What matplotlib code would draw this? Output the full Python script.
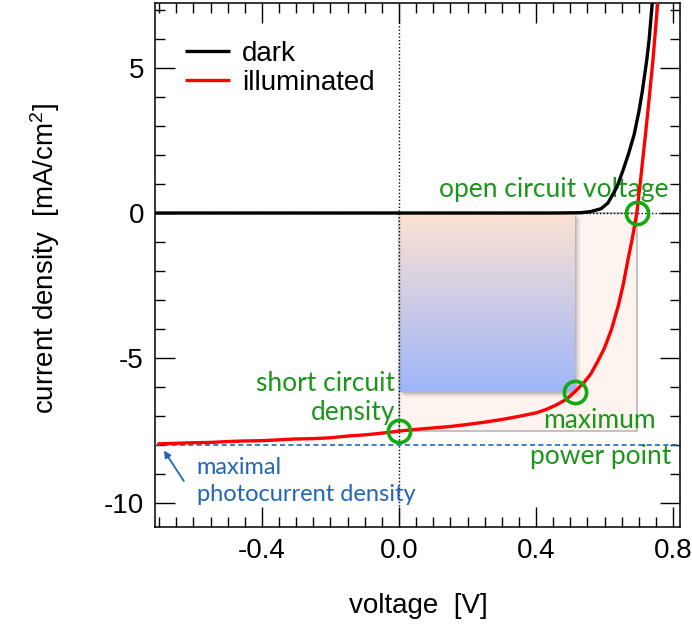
import numpy as np
import matplotlib
matplotlib.use("Agg")
import matplotlib.pyplot as plt
from matplotlib.patches import Rectangle
from matplotlib.ticker import MultipleLocator, FormatStrFormatter

plt.rcParams['font.family'] = ['Liberation Sans', 'DejaVu Sans']
plt.rcParams['mathtext.fontset'] = 'custom'
plt.rcParams['mathtext.rm'] = 'Liberation Sans'
plt.rcParams['mathtext.default'] = 'regular'
plt.rcParams['axes.unicode_minus'] = False

# dark J-V curve (V, mA/cm2)
v_dark = [-0.712, 0.45, 0.53, 0.56, 0.59, 0.61, 0.636, 0.653, 0.67, 0.686,
          0.70, 0.71, 0.723, 0.73, 0.739, 0.742]
j_dark = [0.0, 0.0, 0.01, 0.05, 0.15, 0.35, 0.9, 1.45, 2.05, 2.7,
          3.5, 4.2, 5.28, 6.0, 7.25, 7.6]

# illuminated J-V curve
v_light = [-0.705, -0.65, -0.60, -0.55, -0.50, -0.45, -0.40, -0.35, -0.30, -0.25,
           -0.20, -0.15, -0.10, -0.05, 0.00, 0.05, 0.10, 0.15, 0.20, 0.25,
           0.30, 0.35, 0.40, 0.43, 0.46, 0.49, 0.513, 0.54, 0.56, 0.58,
           0.60, 0.62, 0.64, 0.655, 0.67, 0.68, 0.694, 0.705, 0.72, 0.73,
           0.741, 0.756]
j_light = [-7.97, -7.95, -7.93, -7.92, -7.89, -7.87, -7.86, -7.83, -7.80, -7.79,
           -7.76, -7.70, -7.66, -7.60, -7.53, -7.47, -7.42, -7.37, -7.30, -7.22,
           -7.13, -7.02, -6.90, -6.78, -6.62, -6.42, -6.17, -5.85, -5.55, -5.12,
           -4.65, -4.02, -3.20, -2.43, -1.50, -0.93, 0.0, 1.15, 2.8, 3.95,
           5.28, 7.4]

# characteristic points
v_oc, j_oc = 0.694, 0.0
v_sc, j_sc = 0.0, -7.53
v_mp, j_mp = 0.513, -6.17
j_ph = -8.0

green = '#1b961b'
blue = '#2266b4'
ann_font = ['Lato', 'DejaVu Sans']

fig = plt.figure(figsize=(6.92, 6.32), dpi=100)
ax = fig.add_axes([155 / 692, 105 / 632, 525 / 692, 524 / 632])

# area Voc x Jsc
ax.add_patch(Rectangle((0, j_sc), v_oc, -j_sc, facecolor='#fdf3ef',
                       edgecolor='#b8b8b8', lw=1.2, zorder=1))

# soft shadow under the power rectangle
for k, a in zip([1.0, 2.0, 3.0, 4.0, 5.0, 6.0], [0.12, 0.10, 0.08, 0.06, 0.04, 0.03]):
    dx = k * 0.0029
    dy = k * 0.034
    ax.add_patch(Rectangle((dx, j_mp - dy), v_mp, -j_mp, facecolor='#555555',
                           edgecolor='none', alpha=a, zorder=1.5))

# power rectangle with vertical colour gradient
top = np.array([252, 226, 210]) / 255
bot = np.array([158, 181, 250]) / 255
t = np.linspace(0, 1, 256)[:, None]
grad = (top[None, :] * (1 - t) + bot[None, :] * t)[:, None, :]
ax.imshow(grad, extent=[0, v_mp, j_mp, 0], aspect='auto', zorder=2,
          interpolation='bilinear')
ax.set_xlim(-0.712, 0.82)
ax.set_ylim(-10.84, 7.25)

# guide lines
ax.axvline(0, color='black', lw=1.0, ls=(0, (1, 1.5)), zorder=3)
ax.axhline(0, color='black', lw=1.0, ls=(0, (1, 1.5)), zorder=3)
ax.axhline(j_ph, color=blue, lw=1.2, ls=(0, (3, 2)), zorder=3)

ax.plot(v_dark, j_dark, color='black', lw=2.4, zorder=4, label='dark',
        solid_capstyle='butt')
ax.plot(v_light, j_light, color='red', lw=2.4, zorder=5, label='illuminated',
        solid_capstyle='butt')

ax.plot([v_sc, v_mp, v_oc], [j_sc, j_mp, j_oc], 'o', ms=16, mfc='none',
        mec='#11aa11', mew=2.6, zorder=6)

ax.legend(loc='upper left', bbox_to_anchor=(0.01, 0.975), frameon=False,
          fontsize=20, handlelength=1.62, handletextpad=0.43,
          labelspacing=0.1, borderaxespad=0.5)

# annotations
ax.text(0.785, 0.55, 'open circuit voltage', color=green, fontsize=19,
        family=ann_font, ha='right', va='baseline')
ax.text(-0.01, -5.87, 'short circuit', color=green, fontsize=19,
        family=ann_font, ha='right', va='center')
ax.text(-0.01, -6.90, 'density', color=green, fontsize=19,
        family=ann_font, ha='right', va='center')
ax.text(0.586, -7.18, 'maximum', color=green, fontsize=19,
        family=ann_font, ha='center', va='center')
ax.text(0.59, -8.40, 'power point', color=green, fontsize=19,
        family=ann_font, ha='center', va='center')
ax.text(-0.59, -8.77, 'maximal', color=blue, fontsize=17,
        family=ann_font, ha='left', va='center')
ax.text(-0.59, -9.72, 'photocurrent density', color=blue, fontsize=17,
        family=ann_font, ha='left', va='center')
ax.annotate('', xy=(-0.686, -8.2), xytext=(-0.628, -9.25),
            arrowprops=dict(arrowstyle='-|>', color=blue, lw=1.3,
                            mutation_scale=10, shrinkA=0, shrinkB=0))

# axes styling
ax.xaxis.set_major_locator(MultipleLocator(0.4))
ax.xaxis.set_minor_locator(MultipleLocator(0.05))
ax.yaxis.set_major_locator(MultipleLocator(5))
ax.yaxis.set_minor_locator(MultipleLocator(1))
ax.xaxis.set_major_formatter(FormatStrFormatter('%.1f'))
ax.tick_params(which='both', direction='in', top=True, right=True,
               width=1.0, labelsize=20)
ax.tick_params(which='major', length=14.5, pad=8)
ax.tick_params(which='minor', length=7.5)
for s in ax.spines.values():
    s.set_linewidth(1.1)

fig.text(418 / 692, 1 - 606 / 632, 'voltage  [V]', fontsize=20,
         ha='center', va='center')
fig.text(45 / 692, 1 - 258 / 632, 'current density  [mA/cm$^2$]', fontsize=20,
         ha='center', va='center', rotation=90)

fig.savefig('out.png', dpi=100)
